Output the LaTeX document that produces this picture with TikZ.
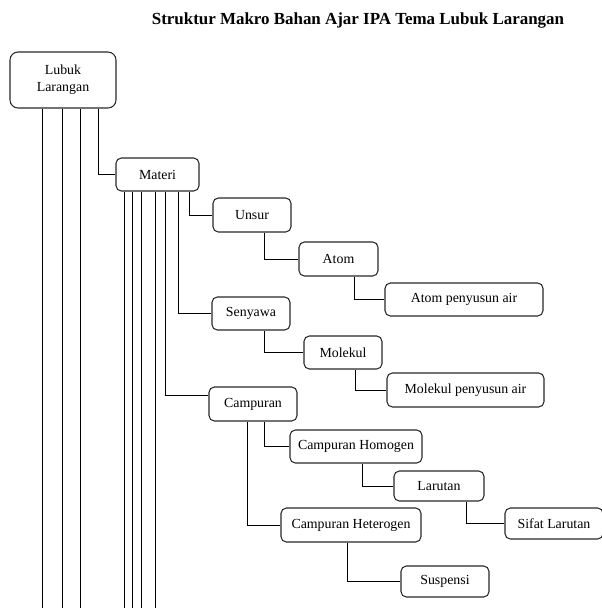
\documentclass[tikz,border=0pt]{standalone}
\usepackage{fontspec}
\setmainfont{Liberation Serif}
\usepackage{tikz}
\usetikzlibrary{positioning}
\usepackage{xcolor}
\definecolor{edgec}{RGB}{40,40,40}
\tikzset{
  box/.style={draw=edgec, line width=0.8pt, rounded corners=4pt, align=center, inner sep=0pt, font=\fontsize{10.4}{12.5}\selectfont},
  topbox/.style={box, rounded corners=6pt},
  link/.style={black, line width=0.6pt},
  titlec/.style={font=\fontsize{12.7}{15}\selectfont\bfseries}
}

\begin{document}
\begin{tikzpicture}[x=0.75pt, y=-0.75pt]
  \useasboundingbox (0,0) rectangle (601,608);
  \node[titlec] (title) at (358,20) {Struktur Makro Bahan Ajar IPA Tema Lubuk Larangan};

  \node[topbox, minimum width=79.5pt, minimum height=42pt] (lubuk) at (63,80) {Lubuk\\Larangan};
  \node[box, minimum width=62.25pt, minimum height=24.75pt] (materi) at (157.5,174.5) {Materi};

  \node[box, minimum width=58.5pt, minimum height=25.5pt] (unsur) at (252,215) {Unsur};
  \node[box, minimum width=59.25pt, minimum height=25.5pt] (atom) at (338.5,259) {Atom};
  \node[box, minimum width=118.5pt, minimum height=24.75pt] (atompa) at (464,299.5) {Atom penyusun air};

  \node[box, minimum width=58.5pt, minimum height=24.75pt] (senyawa) at (251,313.5) {Senyawa};
  \node[box, minimum width=58.5pt, minimum height=24.75pt] (molekul) at (343,352.5) {Molekul};
  \node[box, minimum width=117.75pt, minimum height=25.5pt] (molpa) at (465.5,390) {Molekul penyusun air};

  \node[box, minimum width=66pt, minimum height=25.5pt] (campuran) at (253,404) {Campuran};
  \node[box, minimum width=99pt, minimum height=24.75pt] (homogen) at (356,446.5) {Campuran Homogen};
  \node[box, minimum width=67.5pt, minimum height=22.5pt] (larutan) at (439,486) {Larutan};
  \node[box, minimum width=73.5pt, minimum height=23.25pt] (sifat) at (554,523.5) {Sifat Larutan};
  \node[box, minimum width=105pt, minimum height=25.5pt] (heterogen) at (351,525) {Campuran Heterogen};
  \node[box, minimum width=66pt, minimum height=23.25pt] (suspensi) at (445,581.5) {Suspensi};

  \coordinate (bottom) at (0,608);
  \foreach \x in {42,62,80}
    \draw[link] (lubuk.south -| \x,0) -- (bottom -| \x,0);
  \foreach \x in {124,132,141,155}
    \draw[link] (materi.south -| \x,0) -- (bottom -| \x,0);

  \draw[link] (lubuk.south -| 98,0) |- (materi.west);
  \draw[link] (materi.south -| 189,0) |- (unsur.west);
  \draw[link] (unsur.south -| 264,0) |- (atom.west);
  \draw[link] (atom.south -| 354,0) |- (atompa.west);
  \draw[link] (materi.south -| 178,0) |- (senyawa.west);
  \draw[link] (senyawa.south -| 264,0) |- (molekul.west);
  \draw[link] (molekul.south -| 355,0) |- (molpa.west);
  \draw[link] (materi.south -| 165,0) |- ([yshift=6.75pt]campuran.west);
  \draw[link] (campuran.south -| 264,0) |- (homogen.west);
  \draw[link] (homogen.south -| 362,0) |- (larutan.west);
  \draw[link] (larutan.south -| 466,0) |- (sifat.west);
  \draw[link] (campuran.south -| 247,0) |- (heterogen.west);
  \draw[link] (heterogen.south -| 347,0) |- (suspensi.west);
\end{tikzpicture}
\end{document}
